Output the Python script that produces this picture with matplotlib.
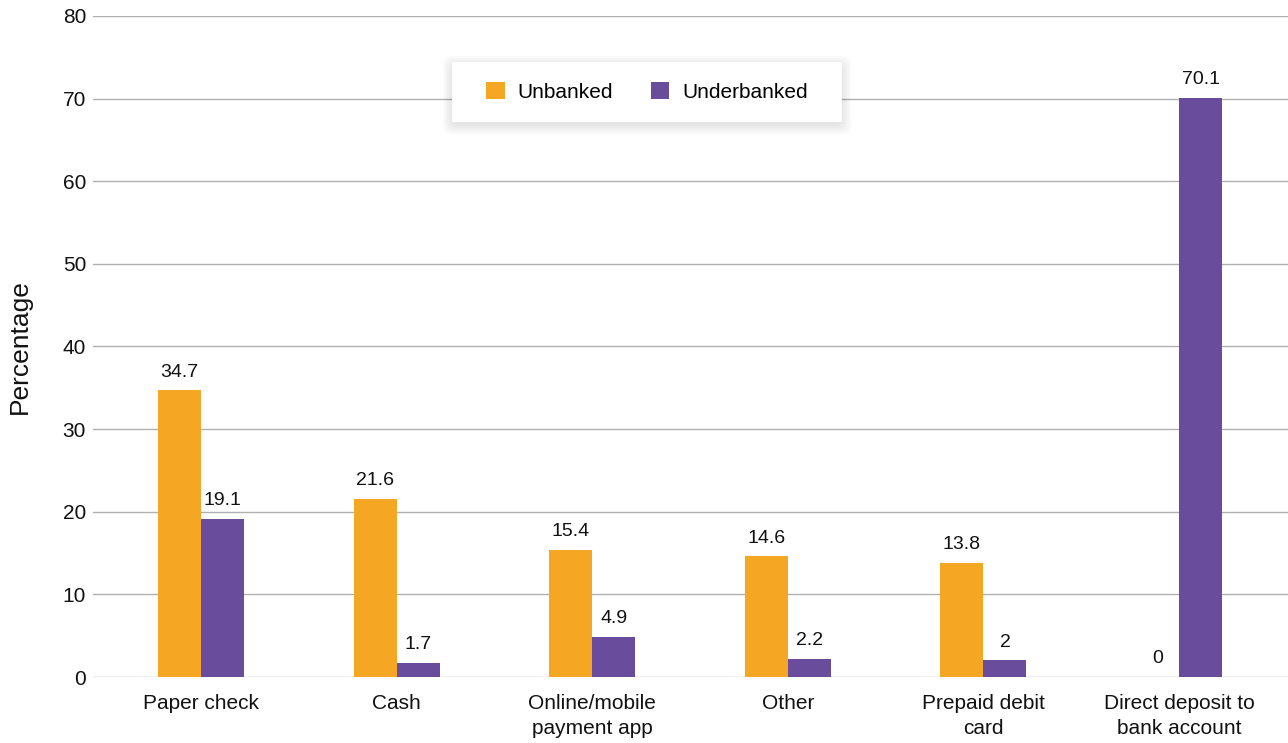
import numpy as np
import matplotlib.pyplot as plt
from matplotlib.patches import FancyBboxPatch, Rectangle
from matplotlib.transforms import IdentityTransform

categories = ["Paper check", "Cash", "Online/mobile\npayment app", "Other",
              "Prepaid debit\ncard", "Direct deposit to\nbank account"]
unbanked = [34.7, 21.6, 15.4, 14.6, 13.8, 0]
underbanked = [19.1, 1.7, 4.9, 2.2, 2, 70.1]
yticks = [0, 10, 20, 30, 40, 50, 60, 70, 80]

orange = "#F5A623"
purple = "#6A4C9C"

plt.rcParams["font.family"] = ["Liberation Sans", "DejaVu Sans"]

fig = plt.figure(figsize=(12.88, 7.43), dpi=100)
ax = fig.add_axes([0.0722, 0.0888, 0.9278, 0.8897])

x = np.arange(len(categories))
w = 0.22
b1 = ax.bar(x - w / 2, unbanked, w, color=orange, label="Unbanked", zorder=3)
b2 = ax.bar(x + w / 2, underbanked, w, color=purple, label="Underbanked", zorder=3)

for bars, vals in [(b1, unbanked), (b2, underbanked)]:
    for r, v in zip(bars, vals):
        ax.annotate(f"{v:g}", (r.get_x() + r.get_width() / 2, v),
                    xytext=(0, 7), textcoords="offset points",
                    ha="center", va="bottom", fontsize=14, color="#111111")

ax.set_xlim(-0.552, 5.557)
ax.set_ylim(0, 80)
ax.set_yticks(yticks)
ax.set_xticks(x)
ax.set_xticklabels(categories, fontsize=15, color="#111111", linespacing=1.4)
ax.tick_params(axis="y", labelsize=15, colors="#111111", length=0, pad=5)
ax.tick_params(axis="x", length=0, pad=12)
ax.yaxis.grid(True, color="#b0b0b0", linewidth=1)
ax.set_axisbelow(True)
for s in ax.spines.values():
    s.set_visible(False)
ax.set_ylabel("Percentage", fontsize=19, color="#111111", labelpad=22)

# legend box with a soft shadow (pixel coordinates)
lx, ly, lw, lh = 452, 743 - 122, 390, 60
for i in range(5):
    pad = 9 - 2 * i
    sh = FancyBboxPatch((lx - pad, ly - pad - 3), lw + 2 * pad, lh + 2 * pad,
                        boxstyle="round,pad=0,rounding_size=8", transform=IdentityTransform(),
                        facecolor="black", edgecolor="none", alpha=0.018, zorder=4,
                        clip_on=False)
    ax.add_patch(sh)
ax.add_patch(Rectangle((lx, ly), lw, lh, transform=IdentityTransform(),
                       facecolor="white", edgecolor="none", zorder=4.5, clip_on=False))

leg = ax.legend(loc="center", bbox_to_anchor=(lx, ly, lw, lh),
                bbox_transform=IdentityTransform(), ncol=2, frameon=False, fontsize=15,
                handlelength=0.9, handleheight=0.9, columnspacing=1.8,
                handletextpad=0.6, borderpad=0.0)
leg.set_zorder(5)

fig.savefig("out.png", dpi=100)
